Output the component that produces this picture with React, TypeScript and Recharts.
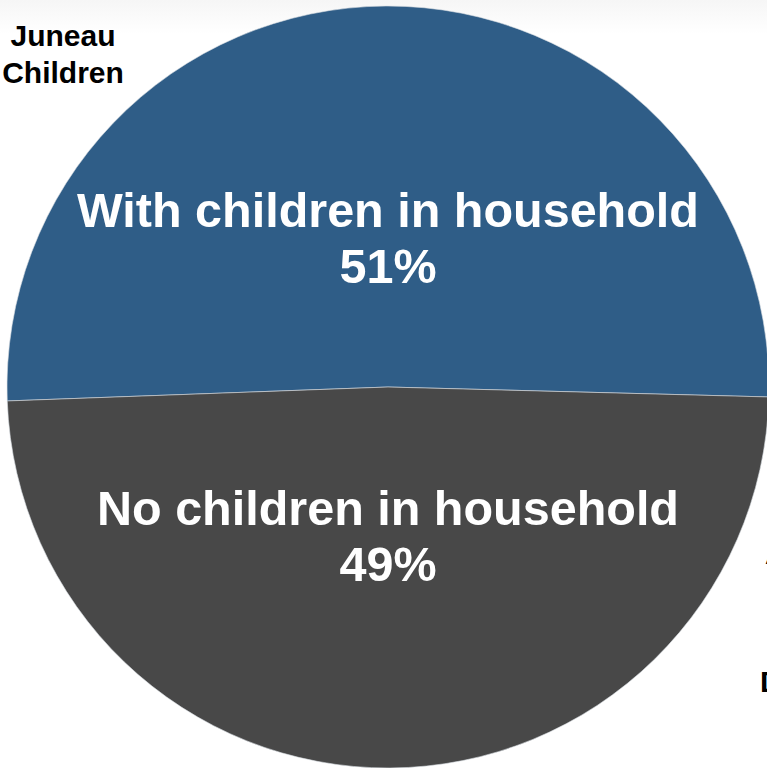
import { PieChart, Pie, Cell } from 'recharts'

const categories = ['With children in household', 'No children in household']
const shares = [51, 49]
const sliceColors = ['#2F5D87', '#484848']
const titleLines = ['Juneau', 'Children']

const data = categories.map((name, i) => ({ name, value: shares[i] }))

const RAD = Math.PI / 180

const renderLabel = (props: any) => {
	const { cx, cy, midAngle, outerRadius, index } = props
	const d = outerRadius * 0.39
	const py = cy + d * Math.sin(-midAngle * RAD)
	const lines = [categories[index], `${shares[index]}%`]
	return (
		<g key={`lbl-${index}`}>
			{lines.map((t, i) => (
				<text
					key={i}
					x={cx}
					y={py + (i - 0.5) * 56 + 17}
					textAnchor='middle'
					fill='#fff'
					fontSize={48.5}
					fontWeight='bold'
					fontFamily='"Liberation Sans", Arial, sans-serif'
				>
					{t}
				</text>
			))}
		</g>
	)
}

const App = () => {
	return (
		<div style={{ position: 'absolute', left: 0, top: 0, width: 767, height: 768, overflow: 'hidden', background: '#fff' }}>
			<div
				style={{
					position: 'absolute',
					left: 0,
					top: 0,
					width: 767,
					height: 34,
					background: 'linear-gradient(#f6f6f6, #ffffff)',
				}}
			/>
			<div style={{ position: 'absolute', left: 0, top: 0 }}>
				<PieChart width={767} height={768} margin={{ top: 0, right: 0, bottom: 0, left: 0 }}>
					<Pie
						data={data}
						dataKey='value'
						cx={388}
						cy={387}
						outerRadius={381}
						startAngle={-1.5}
						endAngle={358.5}
						stroke='#d8dde3'
						strokeWidth={0.6}
						label={renderLabel}
						labelLine={false}
						isAnimationActive={false}
					>
						{data.map((entry, index) => (
							<Cell key={`cell-${index}`} fill={sliceColors[index]} />
						))}
					</Pie>
				</PieChart>
			</div>
			<svg width={767} height={768} style={{ position: 'absolute', left: 0, top: 0, pointerEvents: 'none' }}>
				{titleLines.map((t, i) => (
					<text
						key={t}
						x={63}
						y={46 + i * 37}
						textAnchor='middle'
						fill='#000'
						fontSize={30}
						fontWeight='bold'
						fontFamily='"Liberation Sans", Arial, sans-serif'
					>
						{t}
					</text>
				))}
				<text x={765} y={564} fill='#000' fontSize={30} fontWeight='bold' fontFamily='"Liberation Sans", Arial, sans-serif'>
					A
				</text>
				<text x={760} y={692} fill='#000' fontSize={30} fontWeight='bold' fontFamily='"Liberation Sans", Arial, sans-serif'>
					D
				</text>
			</svg>
		</div>
	)
}

export default App
